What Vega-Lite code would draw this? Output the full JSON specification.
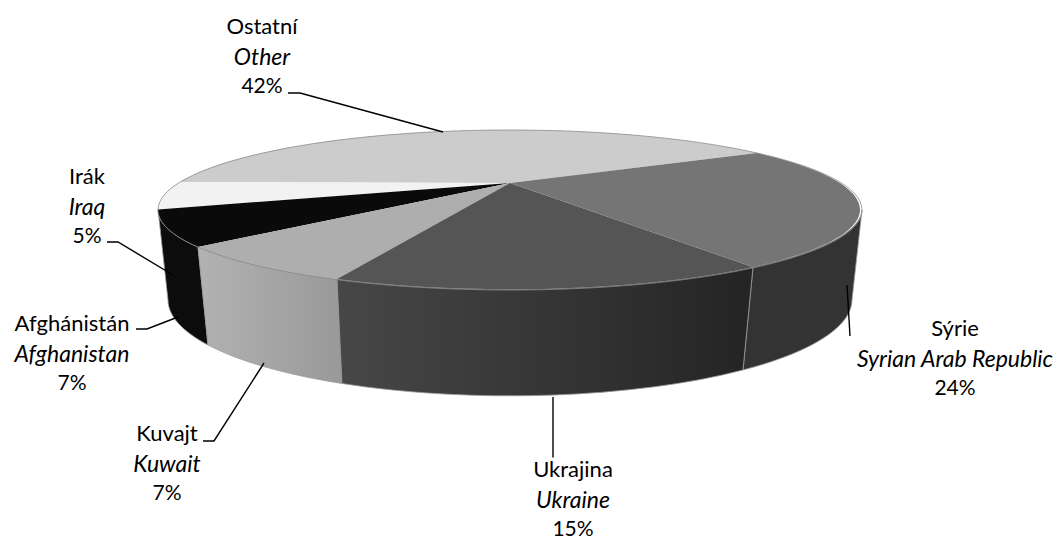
{"$schema":"https://vega.github.io/schema/vega-lite/v6.json","width":1058,"height":539,"autosize":{"type":"none"},"padding":0,"background":"white","view":{"stroke":null},"data":{"values":[{"rank":1,"cz":"Ostatní","en":"Other","share":0.42},{"rank":2,"cz":"Irák","en":"Iraq","share":0.05},{"rank":3,"cz":"Afghánistán","en":"Afghanistan","share":0.07},{"rank":4,"cz":"Kuvajt","en":"Kuwait","share":0.07},{"rank":5,"cz":"Ukrajina","en":"Ukraine","share":0.15},{"rank":6,"cz":"Sýrie","en":"Syrian Arab Republic","share":0.24}]},"resolve":{"scale":{"shape":"independent","fill":"independent"}},"layer":[{"transform":[{"filter":"datum.rank==3||datum.rank==6"}],"mark":{"type":"point","filled":true,"size":4,"opacity":1,"stroke":"#9a9a9a","strokeWidth":0.8},"encoding":{"shape":{"field":"cz","type":"nominal","legend":null,"scale":{"domain":["Afghánistán","Sýrie"],"range":["M-331 -22.5 A352 80 0 0 1 -371 -60 L-361 30.5 A342 96 0 0 0 -321 75.5 Z","M333 -59.5 A352 80 0 0 1 224 -2.5 L214 100.5 A342 96 0 0 0 323 30.5 Z"]}},"fill":{"field":"cz","type":"nominal","legend":null,"scale":{"domain":["Afghánistán","Sýrie"],"range":["#0c0c0c","#333333"]}}}},{"transform":[{"filter":"datum.rank==4"}],"mark":{"type":"point","filled":true,"size":4,"opacity":1,"stroke":"#9a9a9a","strokeWidth":0.8,"fill":{"gradient":"linear","x1":0,"y1":0,"x2":1,"y2":0,"stops":[{"offset":0,"color":"#b2b2b2"},{"offset":1,"color":"#999999"}]}},"encoding":{"shape":{"field":"cz","type":"nominal","legend":null,"scale":{"domain":["Kuvajt"],"range":["M-192 9.5 A352 80 0 0 1 -331 -22.5 L-321 75.5 A342 96 0 0 0 -187 114 Z"]}}}},{"transform":[{"filter":"datum.rank==5"}],"mark":{"type":"point","filled":true,"size":4,"opacity":1,"stroke":"#9a9a9a","strokeWidth":0.8,"fill":{"gradient":"linear","x1":0,"y1":0,"x2":1,"y2":0,"stops":[{"offset":0,"color":"#474747"},{"offset":1,"color":"#242424"}]}},"encoding":{"shape":{"field":"cz","type":"nominal","legend":null,"scale":{"domain":["Ukrajina"],"range":["M224 -2.5 A352 80 0 0 1 -192 9.5 L-187 114 A342 96 0 0 0 214 100.5 Z"]}}}},{"mark":{"type":"point","filled":true,"size":4,"opacity":1,"strokeWidth":0},"encoding":{"shape":{"field":"cz","type":"nominal","legend":null,"scale":{"domain":["Ostatní","Irák","Afghánistán","Kuvajt","Ukrajina","Sýrie"],"range":["M-19 -86.5 L-349 -87.5 A352 80 0 0 1 228 -116.5 Z","M-19 -86.5 L-371 -60 A352 80 0 0 1 -349 -87.5 Z","M-19 -86.5 L-331 -22.5 A352 80 0 0 1 -371 -60 Z","M-19 -86.5 L-192 9.5 A352 80 0 0 1 -331 -22.5 Z","M-19 -86.5 L224 -2.5 A352 80 0 0 1 -192 9.5 Z","M-19 -86.5 L228 -116.5 A352 80 0 0 1 224 -2.5 Z"]}},"fill":{"field":"cz","type":"nominal","legend":null,"scale":{"domain":["Ostatní","Irák","Afghánistán","Kuvajt","Ukrajina","Sýrie"],"range":["#cccccc","#f2f2f2","#0a0a0a","#aeaeae","#555555","#757575"]}}}},{"transform":[{"filter":"datum.rank==1"}],"mark":{"type":"point","filled":false,"size":4,"opacity":1,"stroke":"#8c8c8c","strokeWidth":0.8},"encoding":{"shape":{"field":"cz","type":"nominal","legend":null,"scale":{"domain":["Ostatní"],"range":["M-371 -59.5 A352 80 0 0 1 333 -59.5 A352 80 0 0 1 -371 -59.5"]}}}},{"mark":{"type":"point","filled":false,"size":4,"opacity":1,"stroke":"#000000","strokeWidth":1.4},"encoding":{"shape":{"field":"cz","type":"nominal","legend":null,"scale":{"domain":["Ostatní","Irák","Afghánistán","Kuvajt","Ukrajina","Sýrie"],"range":["M-241 -176.5 L-229 -176.5 L-86 -137.5","M-422 -27.5 L-411 -27.5 L-356 5.5","M-393 59.5 L-382 59.5 L-351 47.5","M-326 171.5 L-315 171.5 L-265 93.5","M24 127.5 L24 188","M318 15.5 L321 66.5"]}}}},{"mark":{"type":"text","font":"Lato","fontSize":22,"color":"#000000","align":"center","baseline":"middle"},"encoding":{"x":{"field":"rank","type":"quantitative","axis":null,"scale":{"domain":[1,2,3,4,5,6],"range":[262,87,72,167,573,955],"nice":false,"zero":false}},"y":{"field":"rank","type":"quantitative","axis":null,"scale":{"domain":[1,2,3,4,5,6],"range":[27,177,324,434,470,329],"nice":false,"zero":false}},"text":{"field":"cz","type":"nominal"}}},{"mark":{"type":"text","font":"Lato","fontSize":23,"fontStyle":"italic","color":"#000000","align":"center","baseline":"middle","dy":30.5},"encoding":{"x":{"field":"rank","type":"quantitative","axis":null},"y":{"field":"rank","type":"quantitative","axis":null},"text":{"field":"en","type":"nominal"}}},{"mark":{"type":"text","font":"Lato","fontSize":21,"color":"#000000","align":"center","baseline":"middle","dy":60},"encoding":{"x":{"field":"rank","type":"quantitative","axis":null},"y":{"field":"rank","type":"quantitative","axis":null},"text":{"field":"share","type":"quantitative","format":".0%"}}}]}
